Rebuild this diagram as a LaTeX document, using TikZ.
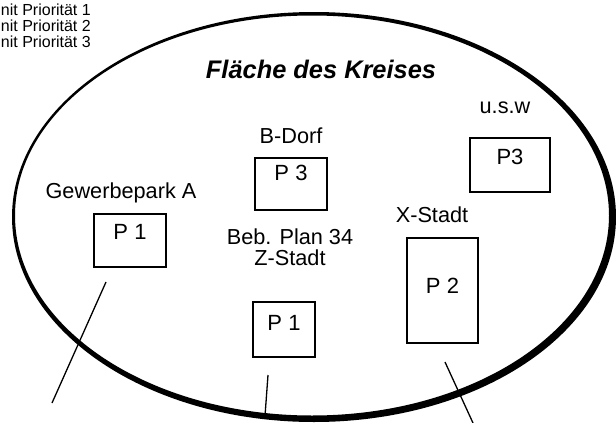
\documentclass[tikz,border=0pt]{standalone}
\usepackage{fontspec}
\setmainfont{Liberation Sans}
\begin{document}
\begin{tikzpicture}[x=1pt,y=-1pt,
  lbl/.style={font=\fontsize{21.7}{21}\selectfont, inner sep=0pt, anchor=base},
  pbox/.style={draw, line width=2.2pt, inner sep=0pt, font=\fontsize{22}{22}\selectfont, text height=15.5pt},
  legend/.style={font=\fontsize{16}{16}\selectfont, inner sep=0pt, anchor=base east},
  conn/.style={line width=1.3pt}]
\useasboundingbox (0,0) rectangle (616,423);
% ellipse with thicker lower-right rim
\fill[even odd rule] (314,217) ellipse [x radius=302pt, y radius=205pt]
                     (312,215.5) ellipse [x radius=297pt, y radius=200pt];
% legend (as printed, cut at the left edge)
\node[legend] (l1) at (91,16) {nit Priorität 1};
\node[legend] (l2) at (91,31.5) {nit Priorität 2};
\node[legend] (l3) at (91,47) {nit Priorität 3};
% title
\node[inner sep=0pt, anchor=base, font=\fontsize{25.4}{25}\selectfont\bfseries\itshape] (title) at (321,78) {Fläche des Kreises};
% labels
\node[lbl] (usw) at (505,113) {u.s.w};
\node[lbl] (bdorf) at (291,143) {B-Dorf};
\node[lbl] (gew) at (121,198) {Gewerbepark A};
\node[lbl, align=center] (zst) at (290,265) {Beb. Plan 34\\Z-Stadt};
\node[lbl] (xst) at (432,222) {X-Stadt};
% boxes
\node[pbox, minimum width=72pt, minimum height=53pt, text depth=17pt] (bga) at (130,240.5) {P 1};
\node[pbox, minimum width=72pt, minimum height=52pt, text depth=22pt] (bbd) at (291,184) {P 3};
\node[pbox, minimum width=80pt, minimum height=54pt, text depth=16pt] (busw) at (510,165) {P3};
\node[pbox, minimum width=62pt, minimum height=55pt, text depth=13pt] (bzs) at (284,329.5) {P 1};
\node[pbox, minimum width=71pt, minimum height=105pt, text depth=9pt] (bxs) at (442.5,290.5) {P 2};
% connectors
\coordinate (g1) at (106,282); \coordinate (g2) at (52,403);
\coordinate (z1) at (268,375); \coordinate (z2) at (265,416);
\coordinate (x1) at (445,362); \coordinate (x2) at (473,423);
\draw[conn] (g1) -- (g2);
\draw[conn] (z1) -- (z2);
\draw[conn] (x1) -- (x2);
\end{tikzpicture}
\end{document}
